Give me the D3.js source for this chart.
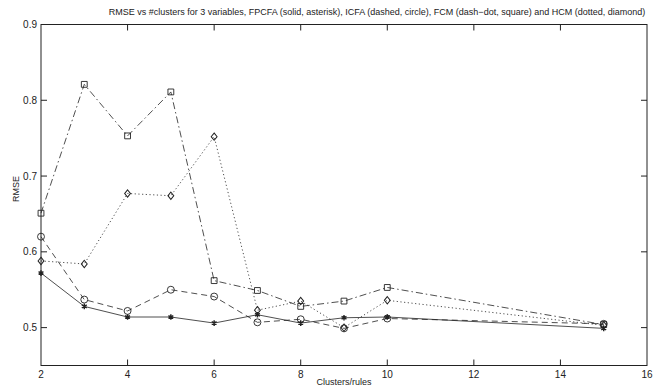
<!DOCTYPE html>
<html>
<head>
<meta charset="utf-8">
<script src="https://cdn.jsdelivr.net/npm/d3@7"></script>
<style>
  body { margin: 0; background: #fff; }
  svg { display: block; font-family: "Liberation Sans", Arial, sans-serif; }
</style>
</head>
<body>
<div id="chart"></div>
<script>
(function() {

    // clusters / rules
    const clusters = [2, 3, 4, 5, 6, 7, 8, 9, 10, 15];

    const fpcfa = [0.572, 0.528, 0.514, 0.514, 0.506, 0.517, 0.506, 0.513, 0.514, 0.499];
    const icfa  = [0.620, 0.537, 0.522, 0.550, 0.541, 0.507, 0.511, 0.499, 0.512, 0.505];
    const fcm   = [0.651, 0.821, 0.753, 0.811, 0.562, 0.549, 0.528, 0.535, 0.553, 0.504];
    const hcm   = [0.588, 0.584, 0.677, 0.674, 0.752, 0.523, 0.535, 0.500, 0.536, 0.503];

    const xTicks = [2, 4, 6, 8, 10, 12, 14, 16];
    const yTicks = [0.5, 0.6, 0.7, 0.8, 0.9];

    const width = 657;
    const height = 388;
    const margin = {top: 24.5, right: 10, bottom: 22.5, left: 41};

    const series = [
        {name: "FPCFA", values: fpcfa, dash: null, marker: "asterisk"},
        {name: "ICFA", values: icfa, dash: "6,4", marker: "circle"},
        {name: "FCM", values: fcm, dash: "7,3,1.5,3", marker: "square"},
        {name: "HCM", values: hcm, dash: "1.2,2.5", marker: "diamond"}
    ];

    const x = d3.scaleLinear()
        .domain([2, 16])
        .range([margin.left, width - margin.right]);

    const y = d3.scaleLinear()
        .domain([0.45, 0.9])
        .range([height - margin.bottom, margin.top]);

    const svg = d3.select("#chart").append("svg")
        .attr("width", width)
        .attr("height", height);

    const ink = "#222";

    // box + ticks (inside, mirrored like matlab)
    const tl = 6;
    const axes = svg.append("g").attr("stroke", ink).attr("stroke-width", 1);
    axes.append("rect")
        .attr("x", x(2)).attr("y", y(0.9))
        .attr("width", x(16) - x(2)).attr("height", y(0.45) - y(0.9))
        .attr("fill", "none");

    xTicks.slice(1, -1).forEach(t => {
        axes.append("line").attr("x1", x(t)).attr("x2", x(t))
            .attr("y1", y(0.45)).attr("y2", y(0.45) - tl);
        axes.append("line").attr("x1", x(t)).attr("x2", x(t))
            .attr("y1", y(0.9)).attr("y2", y(0.9) + tl);
    });
    yTicks.slice(0, -1).forEach(t => {
        axes.append("line").attr("x1", x(2)).attr("x2", x(2) + tl)
            .attr("y1", y(t)).attr("y2", y(t));
        axes.append("line").attr("x1", x(16)).attr("x2", x(16) - tl)
            .attr("y1", y(t)).attr("y2", y(t));
    });

    // tick labels
    svg.append("g").selectAll("text")
        .data(xTicks)
        .join("text")
        .attr("x", d => x(d))
        .attr("y", y(0.45) + 12)
        .attr("text-anchor", "middle")
        .attr("font-size", "10px")
        .attr("fill", ink)
        .text(d => d);

    svg.append("g").selectAll("text")
        .data(yTicks)
        .join("text")
        .attr("x", x(2) - 4)
        .attr("y", d => y(d) + 3.5)
        .attr("text-anchor", "end")
        .attr("font-size", "10px")
        .attr("fill", ink)
        .text(d => d.toFixed(1));

    // labels + title
    svg.append("text")
        .attr("x", (x(2) + x(16)) / 2)
        .attr("y", height - 3)
        .attr("text-anchor", "middle")
        .attr("font-size", "9px")
        .attr("fill", ink)
        .text("Clusters/rules");

    svg.append("text")
        .attr("transform", `translate(19,${(y(0.45) + y(0.9)) / 2 - 6}) rotate(-90)`)
        .attr("text-anchor", "middle")
        .attr("font-size", "9px")
        .attr("fill", ink)
        .text("RMSE");

    svg.append("text")
        .attr("x", 377)
        .attr("y", 15)
        .attr("text-anchor", "middle")
        .attr("font-size", "9px")
        .attr("fill", ink)
        .text("RMSE vs #clusters for 3 variables, FPCFA (solid, asterisk), ICFA (dashed, circle), FCM (dash\u2212dot, square) and HCM (dotted, diamond)");

    const line = d3.line()
        .x(d => x(d[0]))
        .y(d => y(d[1]));

    const symbols = {
        asterisk: d3.symbol(d3.symbolAsterisk, 22),
        circle: d3.symbol(d3.symbolCircle, 38),
        square: d3.symbol(d3.symbolSquare, 34),
        diamond: d3.symbol(d3.symbolDiamond2, 22)
    };

    series.forEach(s => {
        const pts = clusters.map((c, i) => [c, s.values[i]]);
        svg.append("path")
            .datum(pts)
            .attr("fill", "none")
            .attr("stroke", ink)
            .attr("stroke-width", 0.8)
            .attr("stroke-dasharray", s.dash)
            .attr("d", line);

        svg.append("g").selectAll("path")
            .data(pts)
            .join("path")
            .attr("transform", d => `translate(${x(d[0])},${y(d[1])})` + (s.marker === "diamond" ? " scale(1,1.25)" : ""))
            .attr("d", symbols[s.marker]())
            .attr("fill", "none")
            .attr("stroke", ink)
            .attr("stroke-width", s.marker === "asterisk" ? 1.4 : 0.9);
    });

})();
</script>
</body>
</html>
